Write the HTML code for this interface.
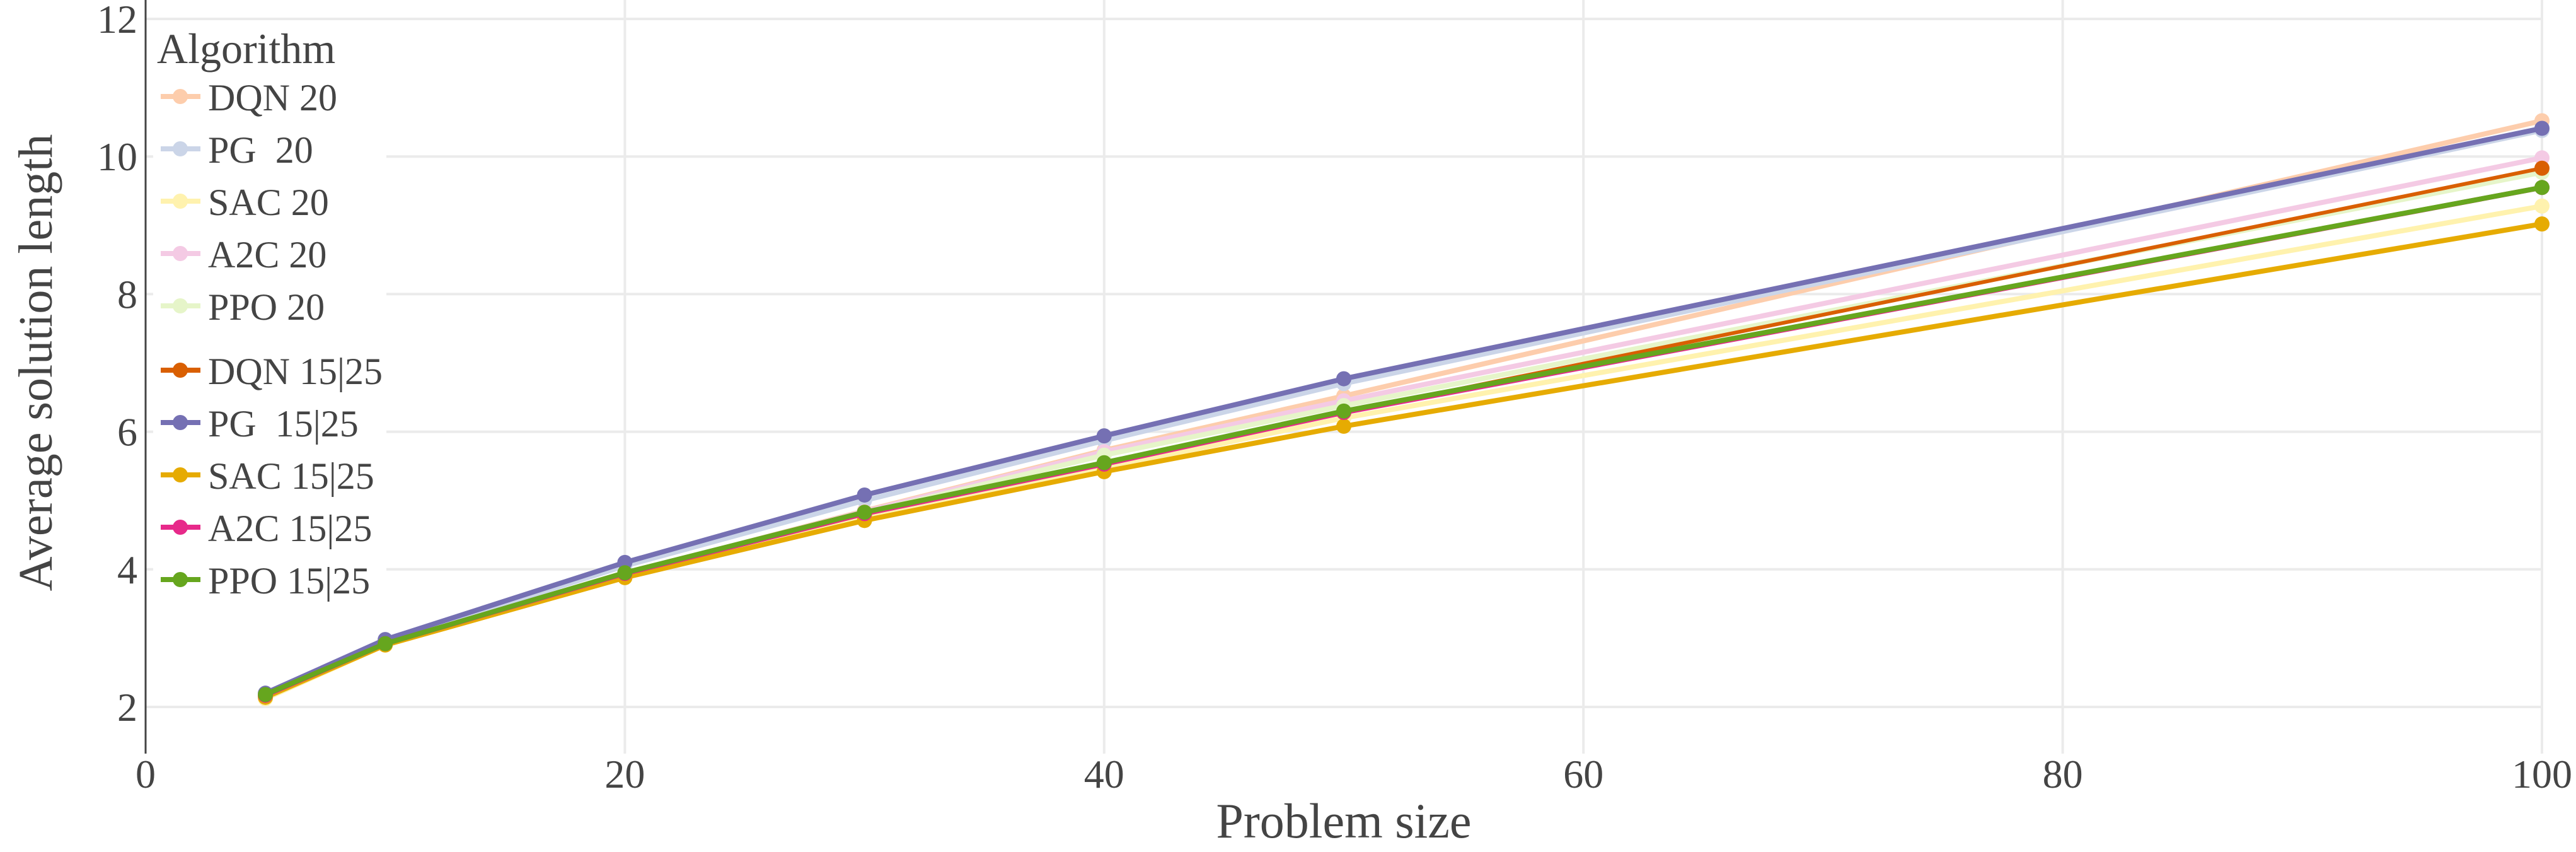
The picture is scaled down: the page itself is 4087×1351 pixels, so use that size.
<!DOCTYPE html>
<html><head><meta charset="utf-8"><style>
html,body{margin:0;padding:0;background:#fff;}
svg{display:block;font-family:"Liberation Serif",serif;}
</style></head><body>
<svg id="chart" width="4087" height="1351" viewBox="0 0 4087 1351" xmlns="http://www.w3.org/2000/svg">
<g id="grid"></g>
<g id="series"></g>
<line x1="231" y1="0" x2="231" y2="1195" stroke="#444" stroke-width="3"/>
<g id="ticks" fill="#444" font-size="64"></g>
<text x="2132" y="1328" text-anchor="middle" font-size="78" fill="#444">Problem size</text>
<text transform="translate(82,575) rotate(-90)" text-anchor="middle" font-size="76" fill="#444">Average solution length</text>
<g id="legend"></g>
</svg>
<script>
const xs = [5, 10, 20, 30, 40, 50, 100];
const xTicks = [0, 20, 40, 60, 80, 100];
const yTicks = [2, 4, 6, 8, 10, 12];
const seriesNames = ["DQN 20","PG  20","SAC 20","A2C 20","PPO 20","DQN 15|25","PG  15|25","SAC 15|25","A2C 15|25","PPO 15|25"];
const seriesColors = ["#fdcdac","#cbd5e8","#fff2ae","#f4cae4","#e6f5c9","#d95f02","#7570b3","#e6ab02","#e7298a","#66a61e"];
const dqn20 = [2.15, 2.92, 3.93, 4.85, 5.73, 6.52, 10.52];
const pg20  = [2.18, 2.95, 4.05, 5.00, 5.87, 6.70, 10.38];
const sac20 = [2.12, 2.90, 3.88, 4.76, 5.47, 6.20, 9.28];
const a2c20 = [2.15, 2.92, 3.93, 4.84, 5.71, 6.45, 9.98];
const ppo20 = [2.14, 2.91, 3.92, 4.82, 5.66, 6.38, 9.77];
const dqn15 = [2.16, 2.93, 3.93, 4.80, 5.53, 6.28, 9.83];
const pg15  = [2.20, 2.98, 4.10, 5.08, 5.94, 6.77, 10.41];
const sac15 = [2.14, 2.90, 3.88, 4.71, 5.42, 6.08, 9.02];
const a2c15 = [2.17, 2.92, 3.94, 4.81, 5.53, 6.28, 9.55];
const ppo15 = [2.18, 2.92, 3.95, 4.83, 5.55, 6.30, 9.55];
const allSeries = [dqn20, pg20, sac20, a2c20, ppo20, dqn15, pg15, sac15, a2c15, ppo15];

const NS = "http://www.w3.org/2000/svg";
const X0 = 231, X1 = 4033, Y2 = 1121, Y12 = 30;
function sx(v){ return X0 + (v - 0) / 100 * (X1 - X0); }
function sy(v){ return Y2 - (v - 2) / 10 * (Y2 - Y12); }
function mk(tag, attrs, parent){ const e = document.createElementNS(NS, tag); for (const k in attrs) e.setAttribute(k, attrs[k]); parent.appendChild(e); return e; }

const grid = document.getElementById('grid');
yTicks.forEach(v => {
  const l = mk('line', {x1: X0, x2: X1, y1: sy(v), y2: sy(v), stroke: '#ebebeb', 'stroke-width': 4}, grid);
  
  
});
xTicks.forEach(v => {
  if (v === 0) return;
  const l = mk('line', {x1: sx(v), x2: sx(v), y1: 0, y2: 1195, stroke: '#ebebeb', 'stroke-width': 4}, grid);
  
  
});

const ticks = document.getElementById('ticks');
yTicks.forEach(v => {
  const t = mk('text', {x: 218, y: sy(v) + 22, 'text-anchor': 'end'}, ticks);
  t.textContent = v;
  
  
});
xTicks.forEach(v => {
  const t = mk('text', {x: sx(v), y: 1249, 'text-anchor': 'middle'}, ticks);
  t.textContent = v;
  
  
});

const sg = document.getElementById('series');
allSeries.forEach((vals, i) => {
  const g = mk('g', {}, sg);
  
  
  const pts = vals.map((v, j) => sx(xs[j]) + ',' + sy(v)).join(' ');
  const pl = mk('polyline', {points: pts, fill: 'none', stroke: seriesColors[i], 'stroke-width': (i === 5 ? 6 : 8), 'stroke-linejoin': 'round'}, g);
  
  
  vals.forEach((v, j) => {
    const c = mk('circle', {cx: sx(xs[j]), cy: sy(v), r: 12, fill: seriesColors[i]}, g);
    
    
  });
});

const lg = document.getElementById('legend');
const bg = mk('rect', {x: 243, y: 40, width: 370, height: 920, fill: '#fff'}, lg);


const title = mk('text', {x: 249, y: 100, 'font-size': 68, fill: '#444'}, lg);
title.textContent = 'Algorithm';


seriesNames.forEach((name, i) => {
  const cy = 153 + i * 83 + (i >= 5 ? 19 : 0);
  const g = mk('g', {}, lg);
  
  
  mk('line', {x1: 255, x2: 318, y1: cy, y2: cy, stroke: seriesColors[i], 'stroke-width': 8}, g);
  mk('circle', {cx: 286, cy: cy, r: 12, fill: seriesColors[i]}, g);
  const t = mk('text', {x: 330, y: cy + 22, 'font-size': 60, fill: '#444'}, g);
  t.setAttribute('style', 'white-space:pre');
  t.textContent = name;
});
</script>
</body></html>
